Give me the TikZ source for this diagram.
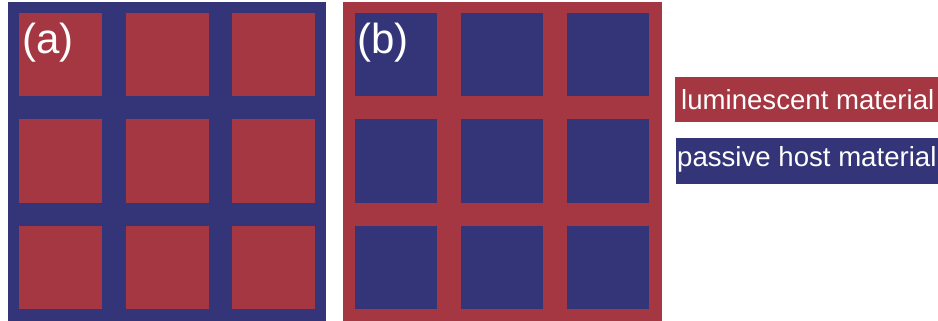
\documentclass[tikz,border=0pt]{standalone}
\usepackage{fontspec}
\setmainfont{Liberation Sans}
\definecolor{lumred}{RGB}{164,55,65}
\definecolor{hostblue}{RGB}{52,52,121}
\begin{document}
\begin{tikzpicture}[x=1pt,y=-1pt,
  lbl/.style={text=white,font=\fontsize{42}{42}\selectfont,inner sep=0pt,anchor=base west},
  leg/.style={text=white,font=\fontsize{27.6}{27.6}\selectfont,inner sep=0pt,anchor=base west}]
\useasboundingbox (0,0) rectangle (938,321);
\fill[white] (0,0) rectangle (938,321);
% panel (a)
\fill[hostblue] (8,2) rectangle (326,321);
\foreach \i in {0,1,2}{\foreach \j in {0,1,2}{
  \fill[lumred] (19+106.5*\i,13+106.5*\j) rectangle ++(83,83);}}
% panel (b)
\fill[lumred] (343,2) rectangle (662,321);
\foreach \i in {0,1,2}{\foreach \j in {0,1,2}{
  \fill[hostblue] (355+106*\i,13+106.5*\j) rectangle ++(82,83);}}
\node[lbl] (la) at (22,54) {(a)};
\node[lbl] (lb) at (357,54) {(b)};
% legend
\fill[lumred] (675,77) rectangle (938,122);
\fill[hostblue] (676,138) rectangle (938,184);
\node[leg] (t1) at (681,110) {luminescent material};
\node[leg] (t2) at (677,166) {passive host material};
\end{tikzpicture}
\end{document}
